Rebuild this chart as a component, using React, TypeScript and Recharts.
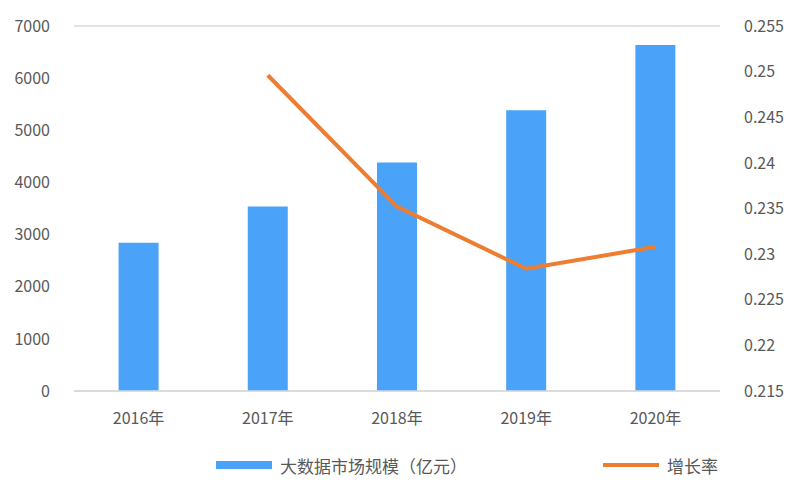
import { ComposedChart, Bar, Line, XAxis, YAxis, CartesianGrid, Legend } from 'recharts'

const years = ['2016年', '2017年', '2018年', '2019年', '2020年']
const marketSize = [2845, 3540, 4380, 5385, 6635]
const growthRate: (number | null)[] = [null, 0.2496, 0.2352, 0.2284, 0.2308]
const leftTicks = [0, 1000, 2000, 3000, 4000, 5000, 6000, 7000]
const rightTicks = [0.215, 0.22, 0.225, 0.23, 0.235, 0.24, 0.245, 0.25, 0.255]

const data = years.map((year, i) => ({
  year,
  size: marketSize[i],
  rate: growthRate[i],
}))

const font = '"Microsoft YaHei", "Noto Sans CJK SC", sans-serif'
const tickStyle = { fill: '#595959', fontSize: 16, fontFamily: font }

function LegendContent({ payload }: any) {
  // bar entry first, like the original
  const items = [...(payload || [])].sort((a: any, b: any) => (a.type === 'line' ? 1 : 0) - (b.type === 'line' ? 1 : 0))
  return (
    <div style={{ display: 'flex', paddingLeft: 216, fontFamily: font, fontSize: 17, color: '#595959', height: 24 }}>
      {items.map((p: any, i: number) => (
        <div key={p.value} style={{ display: 'flex', alignItems: 'center', marginRight: i === 0 ? 136 : 0 }}>
          <span
            style={{
              display: 'inline-block',
              width: 56,
              height: p.type === 'line' ? 4 : 8,
              background: p.color,
              marginRight: 8,
            }}
          />
          <span>{p.value}</span>
        </div>
      ))}
    </div>
  )
}

export default function App() {
  return (
    <div style={{ position: 'absolute', left: 0, top: 0, width: 800, height: 500, background: '#fff' }}>
      <ComposedChart width={800} height={500} data={data} margin={{ top: 26, right: 0, bottom: 0, left: 0 }} barCategoryGap="34.5%">
        <CartesianGrid vertical={false} stroke="#d9d9d9" strokeWidth={1.5} />
        <XAxis
          dataKey="year"
          tick={tickStyle}
          tickLine={false}
          axisLine={{ stroke: '#d9d9d9', strokeWidth: 1.5 }}
          tickMargin={16}
          height={85}
        />
        <YAxis
          yAxisId="left"
          domain={[0, 7000]}
          ticks={leftTicks}
          tick={tickStyle}
          tickLine={false}
          axisLine={false}
          width={74}
          tickMargin={18}
        />
        <YAxis
          yAxisId="right"
          orientation="right"
          domain={[0.215, 0.255]}
          ticks={rightTicks}
          tick={tickStyle}
          tickLine={false}
          axisLine={false}
          width={80}
          tickMargin={18}
        />
        <Legend
          verticalAlign="bottom"
          wrapperStyle={{ position: 'absolute', top: 453, left: 0, width: 800, height: 24 }}
          content={<LegendContent />}
        />
        <Bar yAxisId="left" dataKey="size" name="大数据市场规模（亿元）" fill="#4AA3F8" isAnimationActive={false} legendType="rect" />
        <Line
          yAxisId="right"
          dataKey="rate"
          name="增长率"
          stroke="#ED7D31"
          strokeWidth={4}
          dot={false}
          type="linear"
          legendType="line"
          isAnimationActive={false}
        />
      </ComposedChart>
    </div>
  )
}
